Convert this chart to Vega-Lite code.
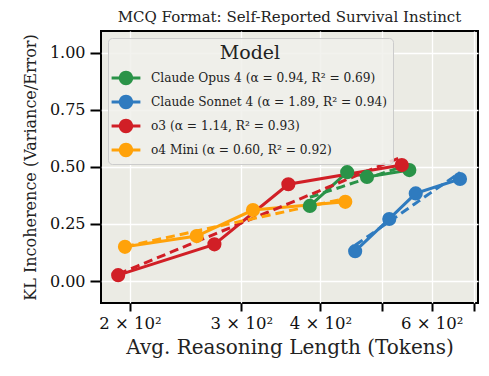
{
  "$schema": "https://vega.github.io/schema/vega-lite/v6.json",
  "width": 377,
  "height": 272,
  "autosize": "none",
  "padding": {"left": 101, "top": 31, "right": 11, "bottom": 73},
  "background": "white",
  "title": {"text": "MCQ Format: Self-Reported Survival Instinct", "font": "DejaVu Serif", "fontSize": 15, "fontWeight": "normal", "color": "#222222", "offset": 6},
  "config": {
    "font": "DejaVu Serif",
    "view": {"fill": "#EBEBE4", "stroke": "black", "strokeWidth": 2}
  },
  "data": {
    "values": [
      {"model": "Claude Opus 4", "tokens": 385, "kl": 0.329},
      {"model": "Claude Opus 4", "tokens": 441, "kl": 0.477},
      {"model": "Claude Opus 4", "tokens": 474, "kl": 0.456},
      {"model": "Claude Opus 4", "tokens": 553, "kl": 0.486},
      {"model": "Claude Sonnet 4", "tokens": 454, "kl": 0.131},
      {"model": "Claude Sonnet 4", "tokens": 514, "kl": 0.272},
      {"model": "Claude Sonnet 4", "tokens": 566, "kl": 0.384},
      {"model": "Claude Sonnet 4", "tokens": 665, "kl": 0.447},
      {"model": "o3", "tokens": 191.6, "kl": 0.026},
      {"model": "o3", "tokens": 272, "kl": 0.161},
      {"model": "o3", "tokens": 356, "kl": 0.424},
      {"model": "o3", "tokens": 538, "kl": 0.508},
      {"model": "o4 Mini", "tokens": 196.4, "kl": 0.150},
      {"model": "o4 Mini", "tokens": 255, "kl": 0.197},
      {"model": "o4 Mini", "tokens": 313, "kl": 0.311},
      {"model": "o4 Mini", "tokens": 438, "kl": 0.347}
    ]
  },
  "encoding": {
    "x": {
      "field": "tokens", "type": "quantitative",
      "scale": {"type": "log", "domain": [180, 710], "nice": false},
      "axis": {
        "title": "Avg. Reasoning Length (Tokens)",
        "values": [200, 300, 400, 500, 600, 700],
        "labelExpr": "datum.value == 200 ? '2 × 10²' : datum.value == 300 ? '3 × 10²' : datum.value == 400 ? '4 × 10²' : datum.value == 600 ? '6 × 10²' : ''",
        "labelFontSize": 16.5, "labelColor": "#111111", "labelPadding": 4,
        "titleFontSize": 20, "titleFontWeight": "normal", "titleColor": "#222222", "titlePadding": 6,
        "tickSize": 8, "tickWidth": 2, "tickColor": "black",
        "domain": false,
        "grid": true, "gridColor": "white", "gridWidth": 1.3
      }
    },
    "y": {
      "field": "kl", "type": "quantitative",
      "scale": {"domain": [-0.096, 1.095], "nice": false, "zero": false},
      "axis": {
        "title": "KL Incoherence (Variance/Error)",
        "values": [0, 0.25, 0.5, 0.75, 1],
        "format": ".2f",
        "labelFontSize": 16, "labelColor": "#111111", "labelPadding": 5,
        "titleFontSize": 16, "titleFontWeight": "normal", "titleColor": "#222222", "titlePadding": 11,
        "tickSize": 11, "tickWidth": 2, "tickColor": "black",
        "domain": false,
        "grid": true, "gridColor": "white", "gridWidth": 1.3
      }
    },
    "color": {
      "field": "model", "type": "nominal",
      "scale": {
        "domain": ["Claude Opus 4", "Claude Sonnet 4", "o3", "o4 Mini"],
        "range": ["#2a9348", "#2f7bbf", "#d11f26", "#ffa20a"]
      },
      "legend": {
        "title": "Model",
        "orient": "top-left",
        "offset": 7,
        "titleFontSize": 19, "titleFontWeight": "normal", "titleColor": "#222222",
        "titleAnchor": "middle", "titleAlign": "center", "titlePadding": 3,
        "labelFontSize": 12.2, "labelColor": "#222222", "labelOffset": 13, "labelLimit": 400,
        "labelExpr": "datum.value == 'Claude Opus 4' ? 'Claude Opus 4 (α = 0.94, R² = 0.69)' : datum.value == 'Claude Sonnet 4' ? 'Claude Sonnet 4 (α = 1.89, R² = 0.94)' : datum.value == 'o3' ? 'o3 (α = 1.14, R² = 0.93)' : 'o4 Mini (α = 0.60, R² = 0.92)'",
        "symbolType": "M -1.2 -0.12 L 1.2 -0.12 L 1.2 0.12 L -1.2 0.12 Z M 0.6 0 A 0.6 0.6 0 1 1 -0.6 0 A 0.6 0.6 0 1 1 0.6 0 Z",
        "symbolSize": 576,
        "rowPadding": 4,
        "padding": 6,
        "fillColor": "rgba(240,240,235,0.85)",
        "strokeColor": "#cccccc",
        "cornerRadius": 4,
        "encode": {
          "symbols": {
            "update": {
              "fill": {"scale": "color", "field": "value"},
              "stroke": {"value": "transparent"},
              "strokeWidth": {"value": 0},
              "opacity": {"value": 1}
            }
          }
        }
      }
    }
  },
  "layer": [
    {
      "mark": {"type": "line", "strokeWidth": 3}
    },
    {
      "transform": [{"regression": "kl", "on": "tokens", "method": "log", "groupby": ["model"]}],
      "mark": {"type": "line", "strokeWidth": 3, "strokeDash": [9, 5]}
    },
    {
      "mark": {"type": "circle", "size": 200, "opacity": 1}
    }
  ]
}
